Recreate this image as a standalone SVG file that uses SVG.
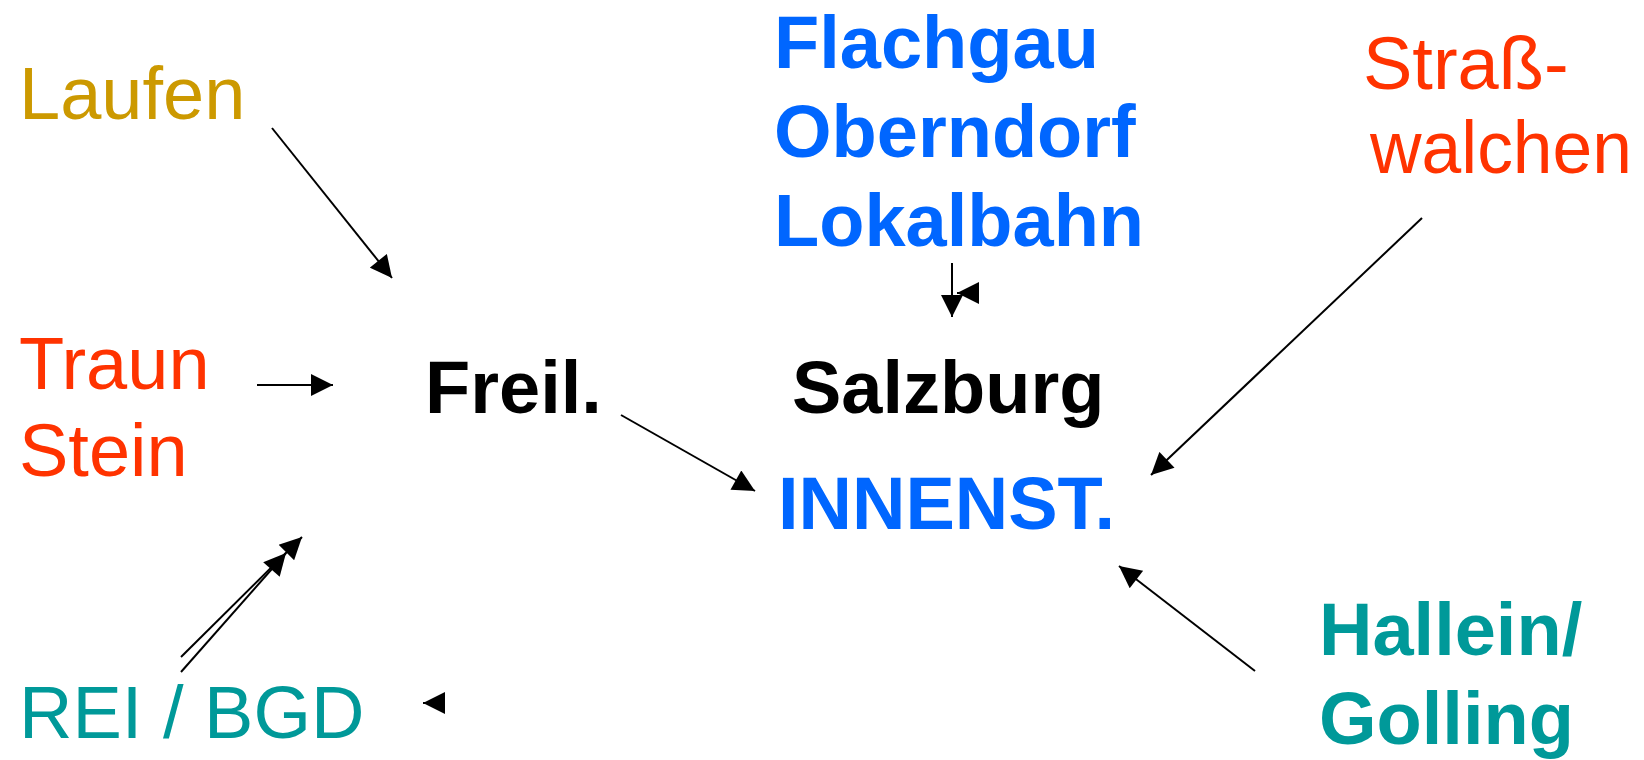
<svg xmlns="http://www.w3.org/2000/svg" width="1644" height="760" viewBox="0 0 1644 760">
<defs>
<style>
text{font-family:"Liberation Sans",Arial,sans-serif;font-size:74px}
.b{font-weight:bold}
.gold{fill:#CC9900}.red{fill:#FF3300}.teal{fill:#009999}.blue{fill:#0066FF}.blk{fill:#000}
.c line{stroke:#000;stroke-width:2;marker-end:url(#ah)}
</style>
<marker id="ah" viewBox="0 0 10 10" refX="10" refY="5" markerUnits="userSpaceOnUse" markerWidth="24" markerHeight="22" orient="auto"><path d="M0,0 L10,5 L0,10 z" fill="#000"/></marker>
</defs>
<rect width="1644" height="760" fill="#fff"/>
<g id="laufen"><text class="gold" x="19" y="119">Laufen</text></g>
<g id="traunstein"><text class="red" x="19" y="389">Traun</text><text class="red" x="19" y="476">Stein</text></g>
<g id="reibgd"><text class="teal" x="19" y="738">REI / BGD</text></g>
<g id="freil"><text class="b blk" x="425" y="413">Freil.</text></g>
<g id="salzburg"><text class="b blk" x="792" y="413">Salzburg</text><text class="b blue" x="778" y="529">INNENST.</text></g>
<g id="flachgau"><text class="b blue" x="774" y="68">Flachgau</text><text class="b blue" x="774" y="157">Oberndorf</text><text class="b blue" x="774" y="246">Lokalbahn</text></g>
<g id="strasswalchen"><text class="red" x="1363" y="89">Straß-</text><text class="red" x="1370" y="173" textLength="262" lengthAdjust="spacingAndGlyphs">walchen</text></g>
<g id="hallein"><text class="b teal" x="1319" y="655">Hallein/</text><text class="b teal" x="1319" y="744">Golling</text></g>
<g id="connectors" class="c">
<line x1="272" y1="128" x2="392" y2="278"/>
<line x1="257" y1="385" x2="333" y2="385"/>
<line x1="621" y1="415" x2="755" y2="491"/>
<line x1="181" y1="657" x2="302" y2="537"/>
<line x1="181" y1="672" x2="286" y2="553"/>
<line x1="445" y1="703" x2="423" y2="703"/>
<line x1="952" y1="263" x2="952" y2="317"/>
<line x1="973" y1="293" x2="957" y2="293"/>
<line x1="1422" y1="218" x2="1151" y2="475"/>
<line x1="1255" y1="671" x2="1119" y2="566"/>
</g>
</svg>
